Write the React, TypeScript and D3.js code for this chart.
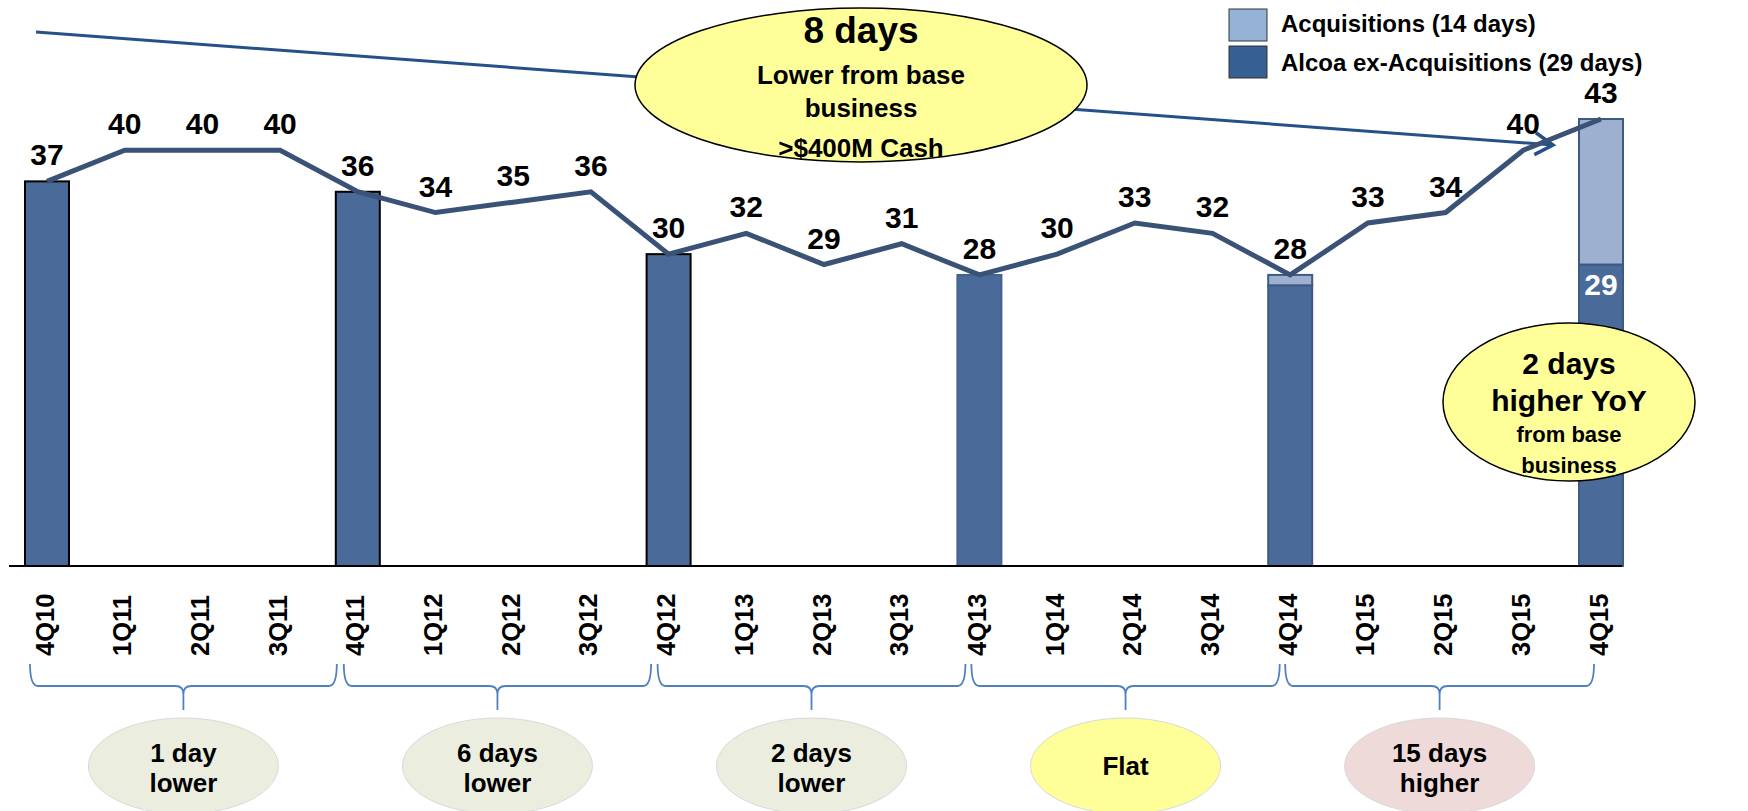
import React from "react";
import * as d3 from "d3";

const quarters = ["4Q10","1Q11","2Q11","3Q11","4Q11","1Q12","2Q12","3Q12","4Q12","1Q13","2Q13","3Q13","4Q13","1Q14","2Q14","3Q14","4Q14","1Q15","2Q15","3Q15","4Q15"];
const dsoDays = [37,40,40,40,36,34,35,36,30,32,29,31,28,30,33,32,28,33,34,40,43];
const barQuarters = ["4Q10","4Q11","4Q12","4Q13","4Q14","4Q15"];
const baseDays = [37,36,30,28,27,29];
const acqDays = [0,0,0,0,1,14];
const barOutline = ["#000","#000","#000","#45638F","#3D5A85","#3D5A85"];
const periodText = [["1 day","lower"],["6 days","lower"],["2 days","lower"],["Flat"],["15 days","higher"]];
const periodFill = ["#EBEEDF","#EBEEDF","#EBEEDF","#FFFF99","#EFDADA"];
const legendItems = ["Acquisitions (14 days)","Alcoa ex-Acquisitions (29 days)"];
const topBubble = ["8 days","Lower from base","business",">$400M Cash"];
const yoyBubble = ["2 days","higher YoY","from base","business"];

const W = 1748, H = 811;
const FONT = "'Liberation Sans', Arial, sans-serif";

export default function App() {
  const x = d3.scalePoint<string>().domain(quarters).range([47, 1601]);
  const y = d3.scaleLinear().domain([0, 43]).range([566, 119]);
  const bw = 44;
  const line = d3.line<number>().x((_, i) => x(quarters[i])!).y(d => y(d));

  // arrow
  const a0 = [36, 32], a1 = [1553, 145];
  const ang = Math.atan2(a1[1] - a0[1], a1[0] - a0[0]);
  const hl = 21, ha = 0.55;
  const h1 = [a1[0] - hl * Math.cos(ang - ha), a1[1] - hl * Math.sin(ang - ha)];
  const h2 = [a1[0] - hl * Math.cos(ang + ha), a1[1] - hl * Math.sin(ang + ha)];

  const braces = [0, 1, 2, 3, 4].map(k => {
    const xa = x(quarters[k * 4])! - 17 + 3 * k;
    const xb = x(quarters[k * 4 + 4])! - 21 + 3.5 * k;
    return { xa, xb, xm: (xa + xb) / 2 };
  });
  const by0 = 664, by1 = 686, by2 = 710;
  const bracePath = (xa: number, xb: number, xm: number) =>
    `M${xa},${by0} Q${xa},${by1} ${xa + 8},${by1} L${xm - 8},${by1} Q${xm},${by1} ${xm},${by1 + 8} L${xm},${by2} M${xm},${by1 + 8} Q${xm},${by1} ${xm + 8},${by1} L${xb - 8},${by1} Q${xb},${by1} ${xb},${by0}`;

  return (
    <svg width={W} height={H} style={{ position: "absolute", left: 0, top: 0, display: "block", background: "#fff" }} fontFamily={FONT}>
      {/* bars */}
      {barQuarters.map((q, i) => {
        const cx = x(q)!;
        const tot = baseDays[i] + acqDays[i];
        return (
          <g key={q}>
            <rect x={cx - bw / 2} y={y(baseDays[i])} width={bw} height={y(0) - y(baseDays[i])} fill="#4A6A9A" stroke={barOutline[i]} strokeWidth={2} />
            {acqDays[i] > 0 && (
              <rect x={cx - bw / 2} y={y(tot)} width={bw} height={y(baseDays[i]) - y(tot)} fill="#9DB0CF" stroke={barOutline[i]} strokeWidth={2} />
            )}
          </g>
        );
      })}
      <text x={x("4Q15")!} y={y(29) + 30} textAnchor="middle" fontWeight="bold" fontSize={30} fill="#fff">29</text>

      {/* axis */}
      <line x1={9} x2={1622} y1={y(0)} y2={y(0)} stroke="#000" strokeWidth={2} />
      {quarters.map(q => (
        <text key={q} transform={`translate(${x(q)! + 6.5},656) rotate(-90)`} fontWeight="bold" fontSize={25.5} textAnchor="start">{q}</text>
      ))}

      {/* arrow */}
      <line x1={a0[0]} y1={a0[1]} x2={a1[0]} y2={a1[1]} stroke="#25508A" strokeWidth={3} />
      <path d={`M${h1[0]},${h1[1]} L${a1[0]},${a1[1]} L${h2[0]},${h2[1]}`} fill="none" stroke="#25508A" strokeWidth={3.5} />

      {/* line */}
      <path d={line(dsoDays)!} fill="none" stroke="#3A5276" strokeWidth={5} strokeLinejoin="miter" />
      {dsoDays.map((v, i) => (
        <text key={i} x={x(quarters[i])!} y={y(v) - 16} textAnchor="middle" fontWeight="bold" fontSize={30} fill="#000">{v}</text>
      ))}

      {/* top bubble */}
      <ellipse cx={861} cy={85} rx={226} ry={77} fill="#FFFF99" stroke="#000" strokeWidth={1.5} />
      <text x={861} y={43} textAnchor="middle" fontWeight="bold" fontSize={37}>{topBubble[0]}</text>
      <text x={861} y={84} textAnchor="middle" fontWeight="bold" fontSize={26}>{topBubble[1]}</text>
      <text x={861} y={117} textAnchor="middle" fontWeight="bold" fontSize={26}>{topBubble[2]}</text>
      <text x={861} y={157} textAnchor="middle" fontWeight="bold" fontSize={26}>{topBubble[3]}</text>

      {/* yoy bubble */}
      <ellipse cx={1569} cy={402} rx={126} ry={79} fill="#FFFF99" stroke="#000" strokeWidth={1.5} />
      <text x={1569} y={374} textAnchor="middle" fontWeight="bold" fontSize={30}>{yoyBubble[0]}</text>
      <text x={1569} y={411} textAnchor="middle" fontWeight="bold" fontSize={30}>{yoyBubble[1]}</text>
      <text x={1569} y={442} textAnchor="middle" fontWeight="bold" fontSize={22}>{yoyBubble[2]}</text>
      <text x={1569} y={473} textAnchor="middle" fontWeight="bold" fontSize={22}>{yoyBubble[3]}</text>

      {/* legend */}
      <rect x={1229} y={9} width={38} height={32} fill="#95B3D7" stroke="#333" strokeWidth={1} />
      <rect x={1229} y={46} width={38} height={32} fill="#376092" stroke="#333" strokeWidth={1} />
      <text x={1281} y={32} fontWeight="bold" fontSize={24}>{legendItems[0]}</text>
      <text x={1281} y={71} fontWeight="bold" fontSize={24}>{legendItems[1]}</text>

      {/* braces and period bubbles */}
      {braces.map((b, k) => (
        <g key={k}>
          <path d={bracePath(b.xa, b.xb, b.xm)} fill="none" stroke="#4F81BD" strokeWidth={1.8} />
          <ellipse cx={b.xm} cy={766} rx={95} ry={48} fill={periodFill[k]} stroke="#D9D9D9" strokeWidth={1} />
          {periodText[k].length === 2 ? (
            <>
              <text x={b.xm} y={762} textAnchor="middle" fontWeight="bold" fontSize={26}>{periodText[k][0]}</text>
              <text x={b.xm} y={792} textAnchor="middle" fontWeight="bold" fontSize={26}>{periodText[k][1]}</text>
            </>
          ) : (
            <text x={b.xm} y={775} textAnchor="middle" fontWeight="bold" fontSize={26}>{periodText[k][0]}</text>
          )}
        </g>
      ))}
    </svg>
  );
}
